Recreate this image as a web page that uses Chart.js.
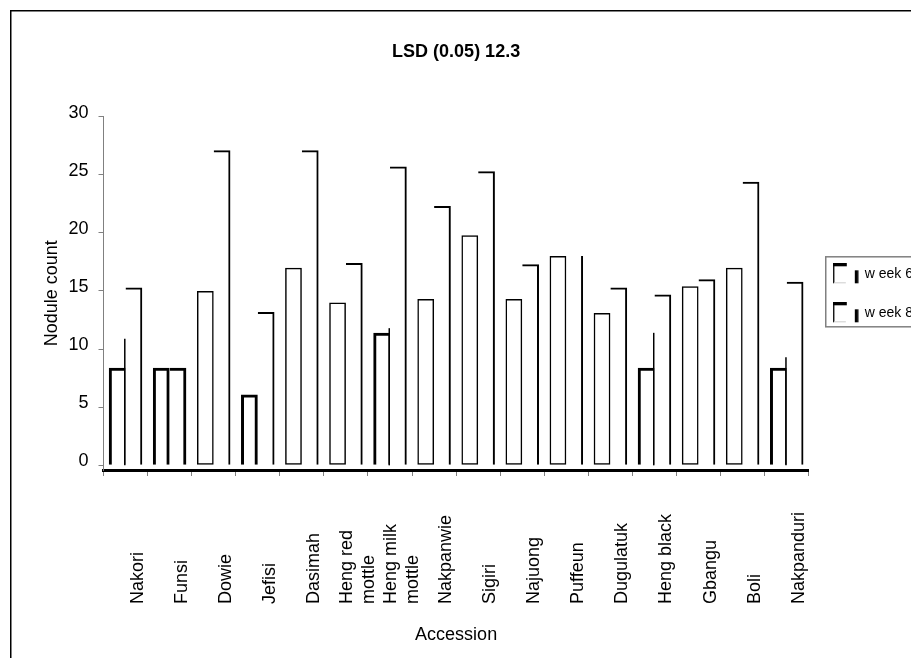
<!DOCTYPE html>
<html>
<head>
<meta charset="utf-8">
<script src="https://cdn.jsdelivr.net/npm/chart.js@4/dist/chart.umd.min.js"></script>
<style>
  html, body { margin: 0; padding: 0; background: #fff; overflow: hidden; }
  #wrap { position: relative; width: 930px; height: 658px; }
</style>
</head>
<body>
<div id="wrap"><canvas id="chartCanvas"></canvas></div>
<script>
"use strict";

const categories = ['Nakori', 'Funsi', 'Dowie', 'Jefisi', 'Dasimah', ['Heng red', 'mottle'], ['Heng milk', 'mottle'],
    'Nakpanwie', 'Sigiri', 'Najuong', 'Puffeun', 'Dugulatuk', 'Heng black', 'Gbangu', 'Boli', 'Nakpanduri'];
const week6 = [8.4, 8.4, 15.0, 6.1, 17.0, 14.0, 11.4, 14.3, 19.8, 14.3, 18.0, 13.1, 8.4, 15.4, 17.0, 8.4];
const week8 = [15.3, 8.4, 27.1, 13.2, 27.1, 17.4, 25.7, 22.3, 25.3, 17.3, 18.0, 15.3, 14.7, 16.0, 24.4, 15.8];
// short extra lines between the two bars of a group
const stubs = [10.9, null, null, null, null, null, 11.8, null, null, null, null, null, 11.4, null, null, 9.3];
const yTicks = [0, 5, 10, 15, 20, 25, 30];
const seriesNames = ['w eek 6', 'w eek 8'];

// which bars are drawn with the heavy outline
const heavy6 = new Set([0, 1, 3, 6, 12, 15]);
const heavy8 = new Set([1]);
const noCap8 = new Set([10]);

const FONT = 'Arial, "Liberation Sans", sans-serif';
Chart.defaults.font.family = FONT;
Chart.defaults.color = '#000';

// legend symbol
const legendIcon = document.createElement('canvas');
legendIcon.width = 26;
legendIcon.height = 21;
(function () {
    const g = legendIcon.getContext('2d');
    g.fillStyle = '#000';
    g.fillRect(0, 0, 14, 3);
    g.fillRect(0, 0, 1.5, 20);
    g.fillRect(22, 7, 3.5, 13);
    g.fillStyle = '#ccc';
    g.fillRect(1, 19, 12, 1);
})();

const frame = {
    id: 'frame',
    beforeDraw(chart) {
        const ctx = chart.ctx;
        ctx.save();
        ctx.fillStyle = '#fff';
        ctx.fillRect(0, 0, chart.width, chart.height);
        ctx.strokeStyle = '#000';
        ctx.lineWidth = 1.5;
        ctx.strokeRect(10.75, 10.75, chart.width + 20, chart.height + 20);
        ctx.restore();
    }
};

const stubLines = {
    id: 'stubLines',
    afterDatasetsDraw(chart) {
        const ctx = chart.ctx;
        const y = chart.scales.y;
        const meta = chart.getDatasetMeta(0);
        ctx.save();
        ctx.strokeStyle = '#000';
        ctx.lineWidth = 1.5;
        stubs.forEach((v, i) => {
            if (v == null) return;
            const bar = meta.data[i];
            const xr = bar.x + bar.width / 2 - 0.75;
            ctx.beginPath();
            ctx.moveTo(xr, y.getPixelForValue(0));
            ctx.lineTo(xr, y.getPixelForValue(v));
            ctx.stroke();
        });
        ctx.restore();
    }
};

const accessionLabels = {
    id: 'accessionLabels',
    afterDraw(chart) {
        const ctx = chart.ctx;
        const x = chart.scales.x;
        const base = 604;
        const lh = 22;
        ctx.save();
        ctx.font = '18px ' + FONT;
        ctx.textAlign = 'left';
        ctx.textBaseline = 'middle';
        for (let i = categories.length - 1; i >= 0; i--) {
            const lines = [].concat(categories[i]);
            const cx = x.getPixelForValue(i) + 12;
            const w = Math.max(...lines.map(l => ctx.measureText(l).width));
            ctx.fillStyle = '#fff';
            ctx.fillRect(cx - lines.length * lh / 2, base - w, lines.length * lh, w);
            ctx.fillStyle = '#000';
            lines.forEach((l, k) => {
                ctx.save();
                ctx.translate(cx + (k - (lines.length - 1) / 2) * lh, base);
                ctx.rotate(-Math.PI / 2);
                ctx.fillText(l, 0, 0);
                ctx.restore();
            });
        }
        ctx.restore();
    }
};

const legendBox = {
    id: 'legendBox',
    afterDraw(chart) {
        const hb = chart.legend.legendHitBoxes;
        if (!hb || !hb.length) return;
        const ctx = chart.ctx;
        const last = hb[hb.length - 1];
        const top = hb[0].top - 10;
        const bottom = last.top + last.height + 7;
        ctx.save();
        ctx.strokeStyle = '#808080';
        ctx.lineWidth = 1.5;
        ctx.strokeRect(hb[0].left - 8, top, 200, bottom - top);
        ctx.restore();
    }
};

const ctx = document.getElementById('chartCanvas').getContext('2d');
const chart = new Chart(ctx, {
    type: 'bar',
    data: {
        labels: categories,
        datasets: [{
            label: seriesNames[0],
            data: week6,
            backgroundColor: 'rgba(255,255,255,0)',
            borderColor: '#000',
            borderSkipped: false,
            borderWidth: c => heavy6.has(c.dataIndex)
                ? {top: 3, left: 3, right: (c.dataIndex === 1 || c.dataIndex === 3) ? 3 : 1.5, bottom: 0}
                : {top: 1.5, left: 1.5, right: 1.5, bottom: 1.5}
        }, {
            label: seriesNames[1],
            data: week8,
            backgroundColor: 'rgba(255,255,255,0)',
            borderColor: '#000',
            borderSkipped: false,
            borderWidth: c => heavy8.has(c.dataIndex)
                ? {top: 3, left: 0, right: 3, bottom: 0}
                : noCap8.has(c.dataIndex)
                    ? {top: 0, left: 0, right: 2, bottom: 0}
                    : {top: 2, left: 0, right: 2, bottom: 0}
        }]
    },
    options: {
        responsive: true,
        maintainAspectRatio: false,
        animation: false,
        layout: {padding: {top: 10, left: 30, right: 7, bottom: 0}},
        datasets: {bar: {categoryPercentage: 0.76, barPercentage: 1.0}},
        scales: {
            x: {
                grid: {display: true, drawOnChartArea: false, drawTicks: true, tickLength: 6, color: '#808080', lineWidth: 1},
                border: {display: true, color: '#000', width: 3},
                ticks: {display: false},
                title: {display: true, text: 'Accession', font: {size: 18}, padding: {top: 0, bottom: 12}},
                afterFit: s => { s.height = 188; }
            },
            y: {
                min: -0.4,
                max: 30,
                afterBuildTicks: axis => { axis.ticks = yTicks.map(v => ({value: v})); },
                grid: {display: true, drawOnChartArea: false, drawTicks: true, tickLength: 5, color: '#808080'},
                border: {display: true, color: '#808080', width: 1},
                ticks: {font: {size: 18}, padding: 10, labelOffset: -4, color: '#000'},
                title: {display: true, text: 'Nodule count', font: {size: 18}, padding: {top: 11, bottom: 0}},
                afterFit: s => { s.width = 73.5; }
            }
        },
        plugins: {
            title: {
                display: true,
                text: 'LSD (0.05) 12.3',
                fullSize: false,
                font: {size: 18, weight: 'bold'},
                color: '#000',
                padding: {top: 31, bottom: 54}
            },
            legend: {
                position: 'right',
                fullSize: false,
                labels: {
                    usePointStyle: true,
                    pointStyle: legendIcon,
                    pointStyleWidth: 24,
                    padding: 25,
                    color: '#000',
                    font: {size: 14}
                }
            },
            tooltip: {enabled: false}
        }
    },
    plugins: [frame, stubLines, accessionLabels, legendBox]
});
</script>
</body>
</html>
